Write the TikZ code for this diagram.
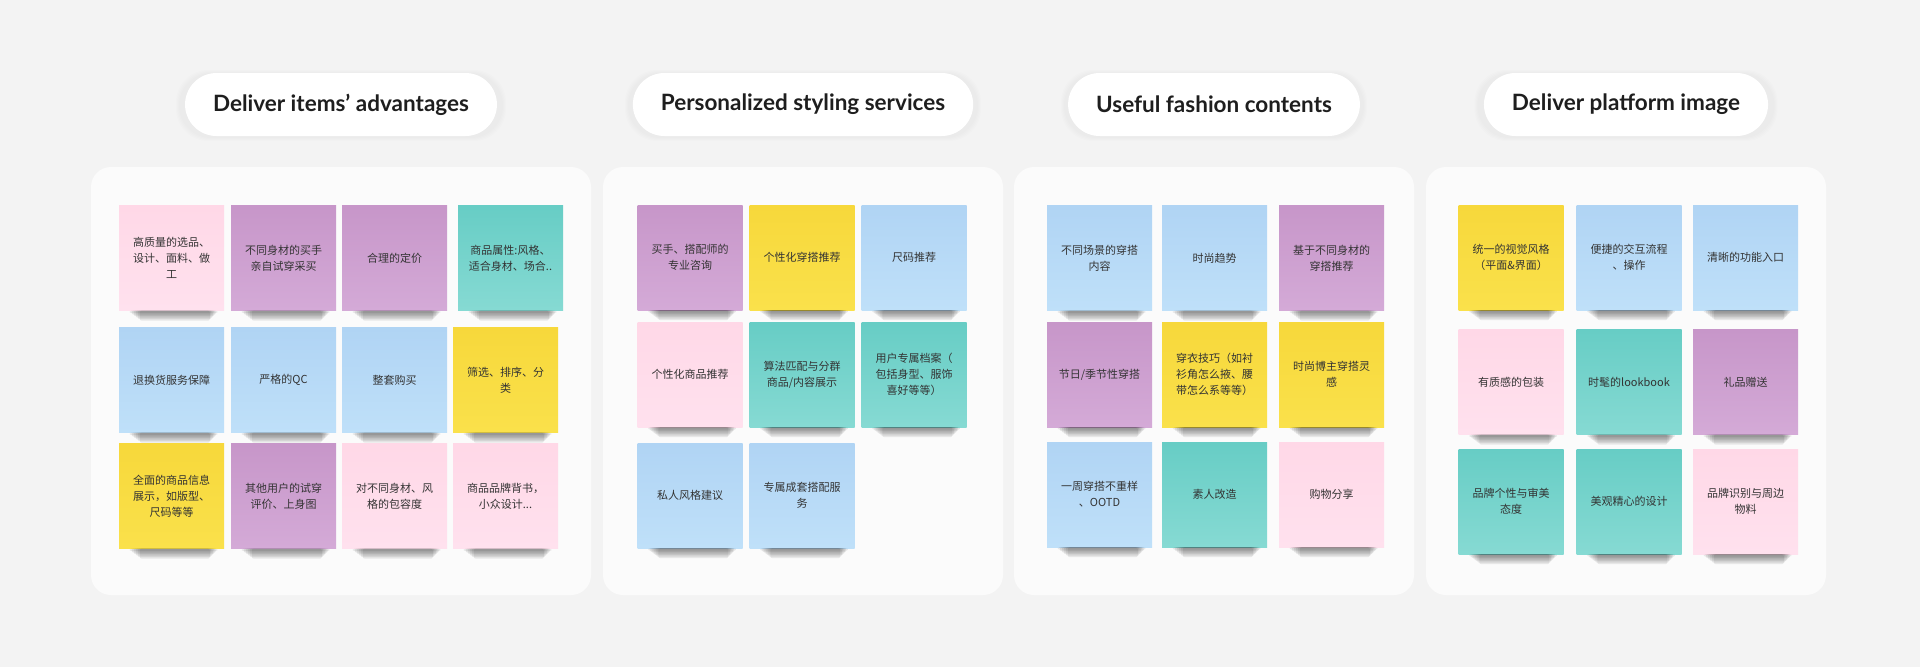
\documentclass[tikz,border=0pt]{standalone}
\usepackage{fontspec}
\setmainfont{Lato}
\newfontfamily\cjk{Noto Sans CJK SC}

\definecolor{bgc}{HTML}{F3F3F3}
\definecolor{panelc}{HTML}{FBFBFB}
\definecolor{headc}{HTML}{1E1E1E}
\definecolor{notetext}{HTML}{333333}
\definecolor{pinkT}{HTML}{FFD8E7}
\definecolor{pinkB}{HTML}{FFE1EE}
\definecolor{purpT}{HTML}{C796C9}
\definecolor{purpB}{HTML}{D4AAD7}
\definecolor{tealT}{HTML}{67CDC5}
\definecolor{tealB}{HTML}{86DAD3}
\definecolor{blueT}{HTML}{B0D4F4}
\definecolor{blueB}{HTML}{BFE0F9}
\definecolor{yellT}{HTML}{F7D83B}
\definecolor{yellB}{HTML}{FAE14B}

\begin{document}
\begin{tikzpicture}[x=1pt, y=-1pt,
  panel/.style={fill=panelc, rounded corners=20pt, minimum height=428pt,
    inner sep=0pt},
  pill/.style={fill=white, rounded corners=31.5pt, minimum height=63pt,
    inner xsep=28pt, font=\bfseries\fontsize{22.5}{27}\selectfont, text=headc},
  glow/.style={fill=black, opacity=0.008, rounded corners=32pt},
  note/.style={minimum width=105pt, minimum height=105pt, text width=88pt,
    align=center, inner sep=0pt, text=notetext,
    font=\cjk\fontsize{11}{15.8}\selectfont},
  shadowbar/.style={fill=black, opacity=0.08, rounded corners=2pt},
  pinknote/.style={note, top color=pinkT, bottom color=pinkB},
  purpnote/.style={note, top color=purpT, bottom color=purpB},
  tealnote/.style={note, top color=tealT, bottom color=tealB},
  bluenote/.style={note, top color=blueT, bottom color=blueB},
  yellnote/.style={note, top color=yellT, bottom color=yellB}]

  \fill[bgc] (0,0) rectangle (1920,667);
  \useasboundingbox (0,0) rectangle (1920,667);

  % panels
  \node[panel, minimum width=500pt] (pan1) at (341,381) {};
  \node[panel, minimum width=400pt] (pan2) at (803,381) {};
  \node[panel, minimum width=400pt] (pan3) at (1214,381) {};
  \node[panel, minimum width=400pt] (pan4) at (1626,381) {};

  % headings, with a faint glow under each
  \foreach \x/\w in {341/322, 803/348, 1214/298, 1626/295}
    \foreach \k in {1,...,4}
      \fill[glow] (\x-\w/2-\k, 73-\k+1) rectangle (\x+\w/2+\k, 136+\k+1);
  \node[pill] (head1) at (341,104.5) {Deliver items’ advantages};
  \node[pill] (head2) at (803,104.5) {Personalized styling services};
  \node[pill] (head3) at (1214,104.5) {Useful fashion contents};
  \node[pill] (head4) at (1626,104.5) {Deliver platform image};

  % panel 1
  \node[pinknote] (a11) at (171.5,258) {高质量的选品、\\设计、面料、做\\工};
  \node[purpnote] (a12) at (283.5,258) {不同身材的买手\\亲自试穿采买};
  \node[purpnote] (a13) at (394.5,258) {合理的定价};
  \node[tealnote] (a14) at (510.5,258) {商品属性:风格、\\适合身材、场合..};
  \node[bluenote] (a21) at (171.5,380) {退换货服务保障};
  \node[bluenote] (a22) at (283.5,380) {严格的QC};
  \node[bluenote] (a23) at (394.5,380) {整套购买};
  \node[yellnote] (a24) at (505.5,380) {筛选、排序、分\\类};
  \node[yellnote] (a31) at (171.5,496) {全面的商品信息\\展示，如版型、\\尺码等等};
  \node[purpnote] (a32) at (283.5,496) {其他用户的试穿\\评价、上身图};
  \node[pinknote] (a33) at (394.5,496) {对不同身材、风\\格的包容度};
  \node[pinknote] (a34) at (505.5,496) {商品品牌背书，\\小众设计...};

  % panel 2
  \node[purpnote] (b11) at (690,257.5) {买手、搭配师的\\专业咨询};
  \node[yellnote] (b12) at (802,257.5) {个性化穿搭推荐};
  \node[bluenote] (b13) at (914,257.5) {尺码推荐};
  \node[pinknote] (b21) at (690,374.5) {个性化商品推荐};
  \node[tealnote] (b22) at (802,374.5) {算法匹配与分群\\商品/内容展示};
  \node[tealnote] (b23) at (914,374.5) {用户专属档案（\\包括身型、服饰\\喜好等等）};
  \node[bluenote] (b31) at (690,495.5) {私人风格建议};
  \node[bluenote] (b32) at (802,495.5) {专属成套搭配服\\务};

  % panel 3
  \node[bluenote] (c11) at (1099.5,258) {不同场景的穿搭\\内容};
  \node[bluenote] (c12) at (1214.5,258) {时尚趋势};
  \node[purpnote] (c13) at (1331.5,258) {基于不同身材的\\穿搭推荐};
  \node[purpnote] (c21) at (1099.5,374.5) {节日/季节性穿搭};
  \node[yellnote] (c22) at (1214.5,374.5) {穿衣技巧（如衬\\衫角怎么掖、腰\\带怎么系等等）};
  \node[yellnote] (c23) at (1331.5,374.5) {时尚博主穿搭灵\\感};
  \node[bluenote] (c31) at (1099.5,494.5) {一周穿搭不重样\\、OOTD};
  \node[tealnote] (c32) at (1214.5,494.5) {素人改造};
  \node[pinknote] (c33) at (1331.5,494.5) {购物分享};

  % panel 4
  \node[yellnote] (d11) at (1511,257.5) {统一的视觉风格\\（平面\&界面）};
  \node[bluenote] (d12) at (1629,257.5) {便捷的交互流程\\、操作};
  \node[bluenote] (d13) at (1745.5,257.5) {清晰的功能入口};
  \node[pinknote] (d21) at (1511,382) {有质感的包装};
  \node[tealnote] (d22) at (1629,382) {时髦的lookbook};
  \node[purpnote] (d23) at (1745.5,382) {礼品赠送};
  \node[tealnote] (d31) at (1511,501.5) {品牌个性与审美\\态度};
  \node[tealnote] (d32) at (1629,501.5) {美观精心的设计};
  \node[pinknote] (d33) at (1745.5,501.5) {品牌识别与周边\\物料};

  % soft shadows under the notes
  \foreach \n in {a11,a12,a13,a14,a21,a22,a23,a24,a31,a32,a33,a34,
                  b11,b12,b13,b21,b22,b23,b31,b32,
                  c11,c12,c13,c21,c22,c23,c31,c32,c33,
                  d11,d12,d13,d21,d22,d23,d31,d32,d33}
    \foreach \k in {1,...,6}
      \fill[shadowbar] (\n.south west) ++(9+2*\k,0) rectangle ++(91-3.5*\k,1+1.5*\k);
\end{tikzpicture}
\end{document}
